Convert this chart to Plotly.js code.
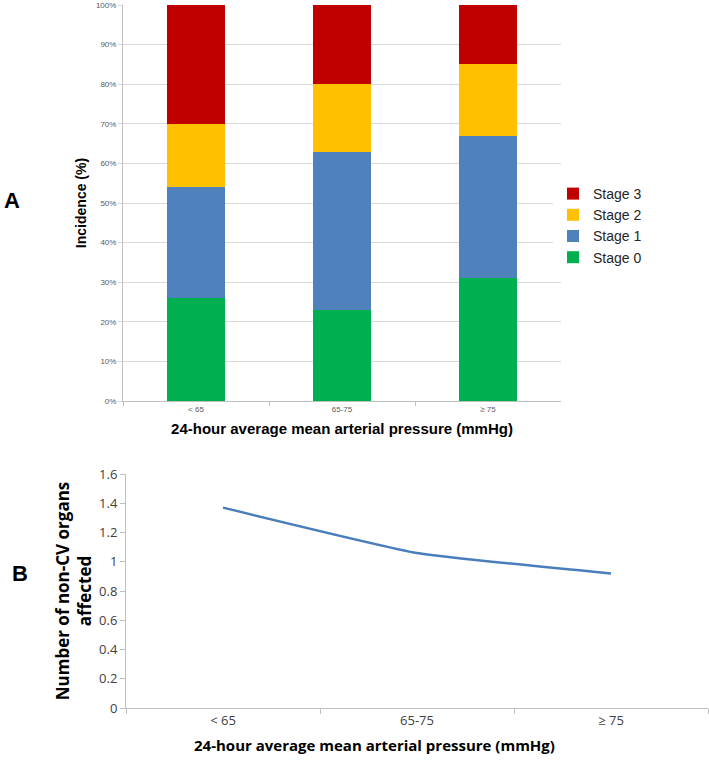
<!DOCTYPE html>
<html>
<head>
<meta charset="utf-8">
<script src="https://cdn.plot.ly/plotly-3.0.1.min.js"></script>
<style>
  html, body { margin: 0; padding: 0; background: #fff; }
  #chart { width: 709px; height: 762px; }
</style>
</head>
<body>
<div id="chart"></div>
<script>
// categories shared by both panels
let categories = ['< 65', '65-75', '≥ 75'];

// panel A: incidence (%) by stage
let stage0 = [26, 23, 31];
let stage1 = [28, 40, 36];
let stage2 = [16, 17, 18];
let stage3 = [30, 20, 15];

// panel B: number of non-CV organs affected
let organs = [1.37, 1.06, 0.92];

let W = 709, H = 762;
function px(x) { return x / W; }
function py(y) { return 1 - y / H; }

let traces = [
  {x: categories, y: stage0, name: 'Stage 0', type: 'bar', marker: {color: '#00b050'}, xaxis: 'x', yaxis: 'y'},
  {x: categories, y: stage1, name: 'Stage 1', type: 'bar', marker: {color: '#4f81bd'}, xaxis: 'x', yaxis: 'y'},
  {x: categories, y: stage2, name: 'Stage 2', type: 'bar', marker: {color: '#ffc000'}, xaxis: 'x', yaxis: 'y'},
  {x: categories, y: stage3, name: 'Stage 3', type: 'bar', marker: {color: '#c00000'}, xaxis: 'x', yaxis: 'y'},
  {x: categories, y: organs, type: 'scatter', mode: 'lines', showlegend: false,
   line: {color: '#4a7ebb', width: 2.5, shape: 'spline', smoothing: 0.4}, xaxis: 'x2', yaxis: 'y2'}
];

let layout = {
  width: W, height: H,
  margin: {l: 0, r: 0, t: 0, b: 0},
  paper_bgcolor: '#fff', plot_bgcolor: '#fff',
  barmode: 'stack',
  bargap: 0.6,
  showlegend: true,
  legend: {
    x: px(553), y: py(178), xanchor: 'left', yanchor: 'top',
    traceorder: 'reversed',
    font: {family: 'Arial, Liberation Sans', size: 14, color: '#262626'},
    itemwidth: 30
  },
  xaxis: {
    domain: [px(123), px(561)], anchor: 'y',
    range: [-0.5, 2.5],
    showline: true, linecolor: '#bfbfbf', ticks: 'outside', tickson: 'boundaries',
    ticklen: 4, tickcolor: '#bfbfbf', showgrid: false,
    tickfont: {family: 'Arial, Liberation Sans', size: 8, color: '#595959'},
    title: {text: '24-hour average mean arterial pressure (mmHg)', standoff: 10,
            font: {family: 'Arial, Liberation Sans', size: 15, color: '#000', weight: 'bold'}}
  },
  yaxis: {
    domain: [py(401), py(5)], anchor: 'x',
    range: [0, 100], dtick: 10, ticksuffix: '%',
    showline: true, linecolor: '#bfbfbf', ticks: 'outside', ticklen: 4, tickcolor: '#d9d9d9',
    showgrid: true, gridcolor: '#d9d9d9', gridwidth: 1, zeroline: false,
    tickfont: {family: 'Arial, Liberation Sans', size: 8, color: '#595959'},
    title: {text: 'Incidence (%)', standoff: 6,
            font: {family: 'Arial, Liberation Sans', size: 14, color: '#000', weight: 'bold'}}
  },
  xaxis2: {
    domain: [px(126), px(708)], anchor: 'y2',
    range: [-0.5, 2.5],
    showline: true, linecolor: '#bfbfbf', ticks: 'outside', tickson: 'boundaries',
    ticklen: 5, tickcolor: '#bfbfbf', showgrid: false,
    tickfont: {family: 'Open Sans, Noto Sans', size: 13, color: '#404040'}
  },
  yaxis2: {
    domain: [py(708), py(474)], anchor: 'x2',
    range: [0, 1.6], dtick: 0.2,
    showline: true, linecolor: '#bfbfbf', ticks: 'outside', ticklen: 5, tickcolor: '#bfbfbf',
    showgrid: false, zeroline: false,
    tickfont: {family: 'Open Sans, Noto Sans', size: 13, color: '#404040'},
    title: {text: 'Number of non-CV organs<br>affected', standoff: 3,
            font: {family: 'Open Sans, Noto Sans', size: 17, color: '#000', weight: 'bold'}}
  },
  annotations: [
    {text: 'A', x: px(12), y: py(201), xref: 'paper', yref: 'paper', showarrow: false,
     xanchor: 'center', yanchor: 'middle',
     font: {family: 'Arial, Liberation Sans', size: 22, color: '#000', weight: 'bold'}},
    {text: 'B', x: px(20), y: py(573), xref: 'paper', yref: 'paper', showarrow: false,
     xanchor: 'center', yanchor: 'middle',
     font: {family: 'Arial, Liberation Sans', size: 22, color: '#000', weight: 'bold'}},
    {text: '24-hour average mean arterial pressure (mmHg)', x: px(375), y: py(745),
     xref: 'paper', yref: 'paper', showarrow: false, xanchor: 'center', yanchor: 'middle',
     font: {family: 'Open Sans, Noto Sans', size: 15, color: '#000', weight: 'bold'}}
  ]
};

Plotly.newPlot('chart', traces, layout, {displayModeBar: false, staticPlot: true});
</script>
</body>
</html>
